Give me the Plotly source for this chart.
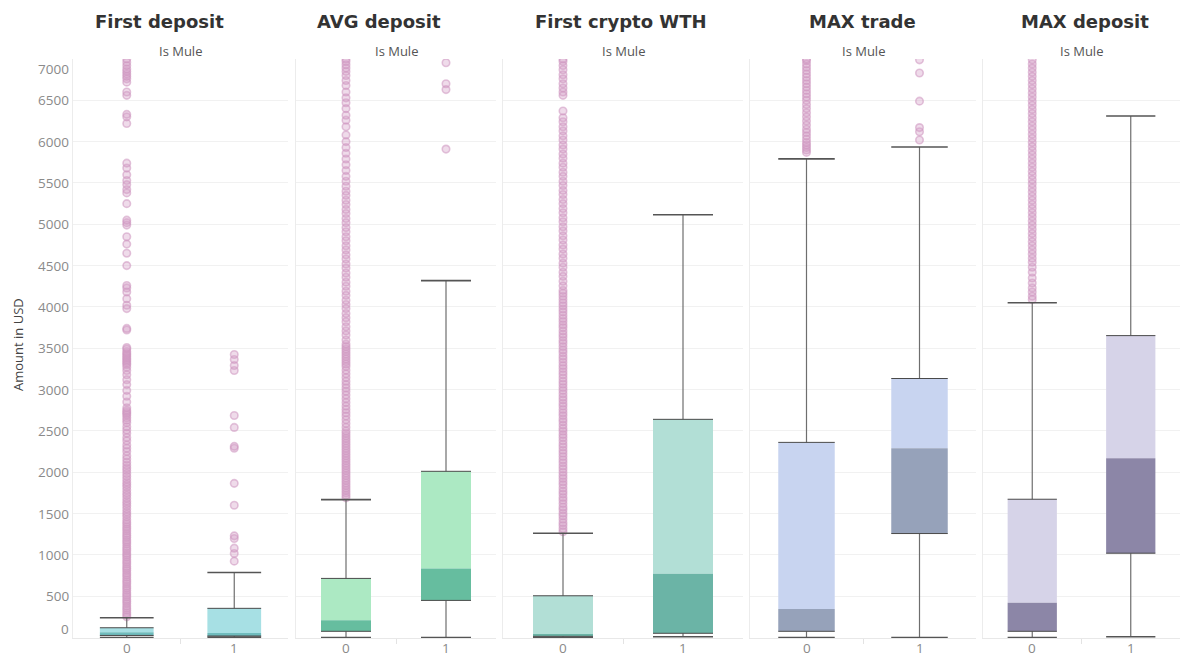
import plotly.graph_objects as go

# ---------------- data ----------------
panels = ["First deposit", "AVG deposit", "First crypto WTH", "MAX trade", "MAX deposit"]
categories = [0, 1]
cat_labels = ["0", "1"]
facet_label = "Is Mule"
y_title = "Amount in USD"
y_tick_vals = [0, 500, 1000, 1500, 2000, 2500, 3000, 3500, 4000, 4500, 5000, 5500, 6000, 6500, 7000]
y_tick_text = ["0", "500", "1000", "1500", "2000", "2500", "3000", "3500", "4000", "4500",
               "5000", "5500", "6000", "6500", "7000"]

# box statistics per panel, [Is Mule = 0, Is Mule = 1]
lower_whisker = [[0, 5], [0, 0], [0, 10], [0, 0], [0, 10]]
q1_vals = [[25, 18], [75, 449], [14, 51], [75, 1258], [75, 1020]]
median_vals = [[65, 54], [208, 836], [42, 771], [344, 2289], [420, 2170]]
q3_vals = [[118, 353], [715, 2011], [505, 2640], [2361, 3134], [1673, 3653]]
upper_whisker = [[239, 787], [1668, 4318], [1262, 5115], [5791, 5936], [4051, 6310]]

# outliers
first_deposit_out0 = [
    250, 275, 300, 330, 355, 380, 410, 435, 460, 490, 515, 540, 570, 595, 620, 650, 675, 700,
    730, 755, 780, 810, 835, 860, 890, 915, 940, 970, 995, 1020, 1050, 1075, 1100, 1130, 1155,
    1180, 1210, 1235, 1260, 1290, 1315, 1340, 1370, 1395, 1425, 1460, 1490, 1520, 1555, 1590,
    1620, 1650, 1685, 1720, 1750, 1785, 1820, 1850, 1880, 1915, 1950, 1985, 2020, 2050, 2085,
    2120, 2160, 2200, 2250, 2290, 2330, 2380, 2420, 2470, 2510, 2550, 2600, 2630, 2660, 2690,
    2710, 2730, 2750, 2780, 2850, 2920, 2990, 3060, 3120, 3180, 3230, 3270, 3300, 3320, 3340,
    3360, 3380, 3400, 3420, 3440, 3460, 3490, 3510, 3720, 3740, 3980, 4020, 4100, 4180, 4230,
    4260, 4500, 4650, 4760, 4850, 4990, 5020, 5050, 5250, 5380, 5420, 5480, 5530, 5600, 5680,
    5740, 6220, 6300, 6330, 6560, 6600, 6720, 6760, 6790, 6820, 6850, 6880, 6920, 6960, 7000]
first_deposit_out1 = [924, 1017, 1081, 1198, 1230, 1600, 1865, 2290, 2313, 2542, 2687, 3231,
                      3292, 3364, 3424]
avg_deposit_out0 = [
    1690, 1720, 1750, 1780, 1810, 1840, 1870, 1900, 1930, 1960, 1990, 2020, 2050, 2080, 2110,
    2140, 2170, 2200, 2230, 2260, 2290, 2320, 2350, 2380, 2410, 2440, 2470, 2500, 2545, 2590,
    2635, 2680, 2720, 2760, 2800, 2845, 2890, 2935, 2980, 3020, 3060, 3100, 3145, 3190, 3235,
    3280, 3310, 3340, 3370, 3400, 3430, 3460, 3490, 3520, 3550, 3600, 3660, 3710, 3760, 3820,
    3870, 3920, 3980, 4030, 4080, 4140, 4190, 4250, 4300, 4360, 4410, 4470, 4520, 4580, 4630,
    4690, 4740, 4800, 4850, 4910, 4960, 5020, 5070, 5130, 5180, 5240, 5290, 5350, 5400, 5460,
    5520, 5580, 5650, 5720, 5790, 5860, 5930, 6000, 6080, 6180, 6260, 6320, 6400, 6470, 6530,
    6600, 6680, 6740, 6800, 6850, 6890, 6930, 6970, 7000]
avg_deposit_out1 = [5910, 6630, 6700, 6955]
crypto_wth_out0 = [
    1280, 1315, 1355, 1390, 1430, 1470, 1505, 1545, 1580, 1620, 1660, 1695, 1735, 1770, 1810,
    1850, 1885, 1925, 1960, 2000, 2040, 2075, 2115, 2150, 2190, 2230, 2265, 2305, 2340, 2380,
    2420, 2455, 2495, 2530, 2570, 2610, 2645, 2685, 2720, 2760, 2800, 2835, 2875, 2910, 2950,
    2990, 3025, 3065, 3100, 3140, 3180, 3215, 3255, 3290, 3330, 3370, 3405, 3445, 3480, 3520,
    3560, 3595, 3635, 3670, 3710, 3750, 3785, 3825, 3860, 3900, 3940, 3975, 4015, 4050, 4090,
    4130, 4165, 4200, 4255, 4310, 4370, 4420, 4480, 4530, 4590, 4640, 4700, 4750, 4810, 4860,
    4920, 4970, 5030, 5080, 5140, 5190, 5250, 5300, 5360, 5410, 5470, 5520, 5580, 5630, 5690,
    5740, 5800, 5850, 5910, 5960, 6020, 6070, 6130, 6180, 6240, 6290, 6370, 6560, 6600, 6650,
    6700, 6760, 6810, 6870, 6920, 6970, 7000]
crypto_wth_out1 = []
max_trade_out0 = [5870, 5900, 5930, 5960, 5990, 6030, 6070, 6110, 6150, 6200, 6250, 6300, 6350,
                  6400, 6450, 6500, 6540, 6580, 6620, 6660, 6700, 6740, 6780, 6820, 6860, 6900,
                  6940, 6980, 7000]
max_trade_out1 = [6020, 6120, 6170, 6490, 6830, 6990]
max_deposit_out0 = [
    4090, 4130, 4180, 4230, 4290, 4350, 4420, 4480, 4540, 4590, 4640, 4690, 4740, 4790, 4840,
    4890, 4940, 4990, 5040, 5090, 5140, 5190, 5240, 5290, 5340, 5390, 5440, 5490, 5540, 5590,
    5640, 5690, 5740, 5790, 5840, 5890, 5940, 5990, 6040, 6090, 6140, 6190, 6240, 6290, 6340,
    6390, 6440, 6490, 6540, 6590, 6640, 6690, 6740, 6790, 6840, 6890, 6940, 6990]
max_deposit_out1 = []

outliers = [
    [first_deposit_out0, first_deposit_out1],
    [avg_deposit_out0, avg_deposit_out1],
    [crypto_wth_out0, crypto_wth_out1],
    [max_trade_out0, max_trade_out1],
    [max_deposit_out0, max_deposit_out1],
]

# ---------------- style ----------------
upper_colors = ["#a7e0e4", "#ace9c3", "#b2dfd6", "#c8d4f0", "#d6d3e8"]
lower_colors = ["#6fbcbd", "#66bd9f", "#6bb4a6", "#96a2ba", "#8c86a7"]
outlier_line = "rgba(206,150,192,0.55)"
outlier_fill = "rgba(214,160,200,0.38)"
W, H = 1182, 657
ML, MR, MT, MB = 73, 2, 59, 19
PW, PH = W - ML - MR, H - MT - MB
panel_px = [(73, 288), (296, 496), (503, 743), (750, 976), (983, 1180)]
title_px = [159, 379, 621, 862, 1085]
BOX_HALF = 0.25
FONT = "Open Sans"
TITLE_FONT = "DejaVu Sans"


def px_x(px):
    return (px - ML) / PW


def px_y(py):
    return 1 - (py - MT) / PH


fig = go.Figure()

for i, name in enumerate(panels):
    xa = "x" if i == 0 else f"x{i + 1}"
    ya = "y" if i == 0 else f"y{i + 1}"
    # outliers
    for j, c in enumerate(categories):
        vals = outliers[i][j]
        if vals:
            fig.add_trace(go.Scatter(
                x=[c] * len(vals), y=vals, mode="markers", xaxis=xa, yaxis=ya,
                marker=dict(symbol="circle", size=7.5, color=outlier_fill,
                            line=dict(width=1.6, color=outlier_line)),
                showlegend=False, hoverinfo="y"))
    # box halves as bars
    fig.add_trace(go.Bar(
        x=categories, base=median_vals[i],
        y=[q3_vals[i][j] - median_vals[i][j] for j in range(2)],
        width=2 * BOX_HALF, marker=dict(color=upper_colors[i], line=dict(width=0)),
        xaxis=xa, yaxis=ya, showlegend=False))
    fig.add_trace(go.Bar(
        x=categories, base=q1_vals[i],
        y=[median_vals[i][j] - q1_vals[i][j] for j in range(2)],
        width=2 * BOX_HALF, marker=dict(color=lower_colors[i], line=dict(width=0)),
        xaxis=xa, yaxis=ya, showlegend=False))
    # whiskers (vertical)
    wx, wy = [], []
    for j, c in enumerate(categories):
        wx += [c, c, None, c, c, None]
        wy += [q3_vals[i][j], upper_whisker[i][j], None, lower_whisker[i][j], q1_vals[i][j], None]
    fig.add_trace(go.Scatter(x=wx, y=wy, mode="lines", xaxis=xa, yaxis=ya,
                             line=dict(color="#6e6e6e", width=1.2), showlegend=False,
                             hoverinfo="skip"))
    # caps
    cx, cy = [], []
    for j, c in enumerate(categories):
        for v in (upper_whisker[i][j], lower_whisker[i][j]):
            cx += [c - BOX_HALF, c + BOX_HALF, None]
            cy += [v, v, None]
    fig.add_trace(go.Scatter(x=cx, y=cy, mode="lines", xaxis=xa, yaxis=ya,
                             line=dict(color="#555555", width=1.6), showlegend=False,
                             hoverinfo="skip"))
    # box edges
    ex, ey = [], []
    for j, c in enumerate(categories):
        for v in (q3_vals[i][j], q1_vals[i][j]):
            ex += [c - BOX_HALF, c + BOX_HALF, None]
            ey += [v, v, None]
    fig.add_trace(go.Scatter(x=ex, y=ey, mode="lines", xaxis=xa, yaxis=ya,
                             line=dict(color="#4a4a4a", width=1), showlegend=False,
                             hoverinfo="skip"))

layout = dict(
    width=W, height=H, margin=dict(l=ML, r=MR, t=MT, b=MB, autoexpand=False),
    paper_bgcolor="white", plot_bgcolor="white", barmode="overlay",
    font=dict(family=FONT, color="#555"), showlegend=False,
)
annotations = []
for i, name in enumerate(panels):
    suf = "" if i == 0 else str(i + 1)
    a, b = panel_px[i]
    layout["xaxis" + suf] = dict(
        domain=[px_x(a), px_x(b)], range=[-0.5, 1.5], tickmode="array",
        tickvals=categories, showticklabels=False, showgrid=False, zeroline=False,
        showline=True, linecolor="#e8e8e8", linewidth=1, ticks="",
        minor=dict(tickmode="array", tickvals=[0.5], ticks="outside", ticklen=5,
                   tickcolor="#e3e3e3", showgrid=False),
        anchor="y" + suf, fixedrange=True)
    layout["yaxis" + suf] = dict(
        range=[-6, 7000], tickmode="array", tickvals=y_tick_vals, showticklabels=False,
        showgrid=True, gridcolor="#f1f1f1", gridwidth=1, zeroline=False,
        showline=True, linecolor="#ececec", linewidth=1, ticks="",
        anchor="x" + suf, fixedrange=True, **({} if i == 0 else {"matches": "y"}))
    annotations.append(dict(
        text=name, xref="paper", yref="paper", x=px_x(title_px[i]), y=px_y(21),
        xanchor="center", yanchor="middle", showarrow=False,
        font=dict(family=TITLE_FONT, size=18, color="#333333", weight="bold")))
    annotations.append(dict(
        text=facet_label, xref="paper", yref="paper", x=px_x((a + b) / 2), y=px_y(51),
        xanchor="center", yanchor="middle", showarrow=False,
        font=dict(family=FONT, size=13, color="#555555")))
    # category labels under each panel
    for c, lab in zip(categories, cat_labels):
        annotations.append(dict(
            text=lab, xref="x" + suf, yref="paper", x=c, y=px_y(648),
            xanchor="center", yanchor="middle", showarrow=False,
            font=dict(family=FONT, size=13.5, color="#8a8a8a")))

for v, t in zip(y_tick_vals, y_tick_text):
    shift = 0
    if v == y_tick_vals[0]:
        shift = 9
    elif v == y_tick_vals[-1]:
        shift = -10
    annotations.append(dict(
        text=t, xref="paper", yref="y", x=0, y=v, xanchor="right", yanchor="middle",
        xshift=-2, yshift=shift, showarrow=False,
        font=dict(family=FONT, size=13.5, color="#8a8a8a")))

annotations.append(dict(
    text=y_title, xref="paper", yref="paper", x=px_x(18), y=px_y(345),
    xanchor="center", yanchor="middle", textangle=-90, showarrow=False,
    font=dict(family=FONT, size=13, color="#444444")))

layout["annotations"] = annotations
fig.update_layout(**layout)
fig.write_html("out.html")
